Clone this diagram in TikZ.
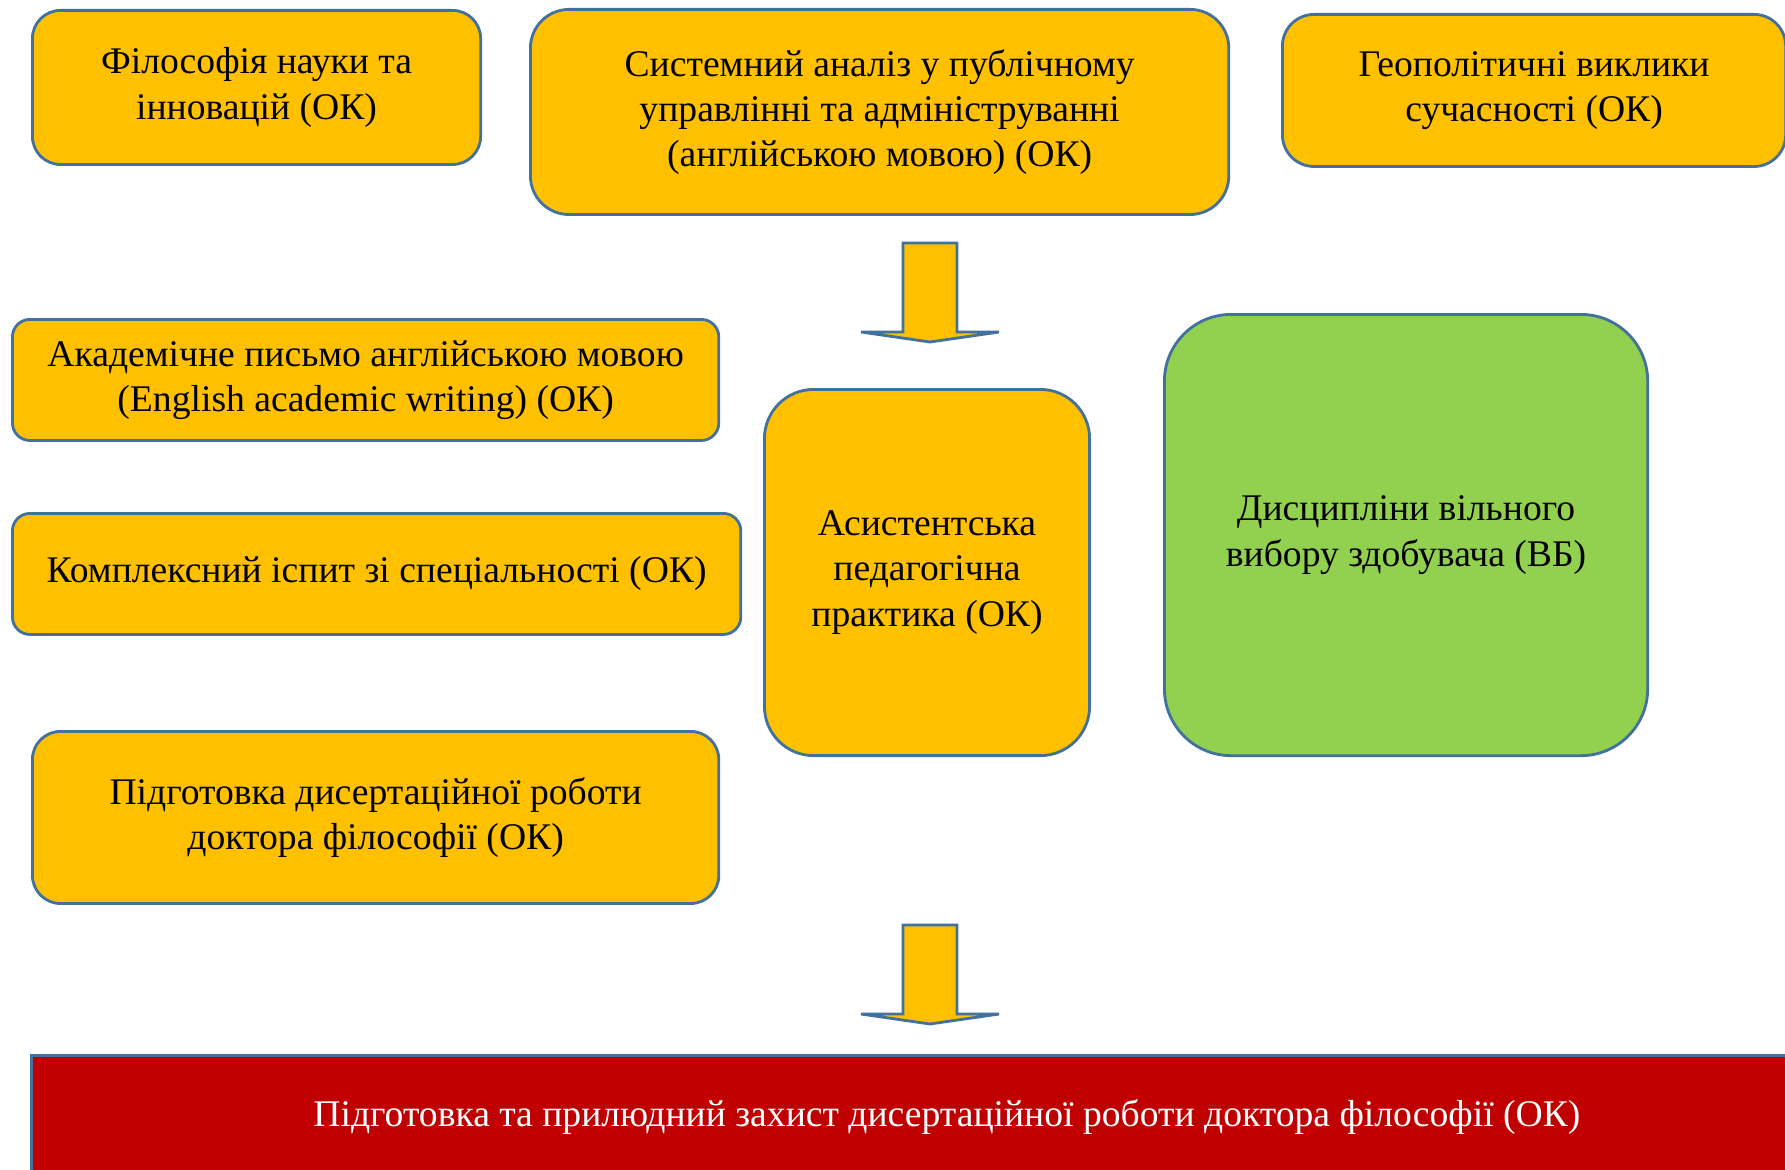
\documentclass[tikz,border=0pt]{standalone}
\usepackage{fontspec}
\setmainfont{Liberation Serif}
\usepackage{tikz}
\usetikzlibrary{positioning,calc}
\definecolor{okyellow}{HTML}{FFC000}
\definecolor{vbgreen}{HTML}{92D050}
\definecolor{zakhred}{HTML}{C00000}
\definecolor{edgeblue}{HTML}{41719C}
\tikzset{
  okbox/.style={draw=edgeblue, line width=0.8pt, fill=okyellow, align=center,
    inner sep=0pt, anchor=north west, font=\fontsize{10.7}{12.9}\selectfont},
  vbbox/.style={okbox, fill=vbgreen},
  finalbox/.style={okbox, fill=zakhred, text=white, rounded corners=0pt},
  arrowblock/.style={draw=edgeblue, line width=0.8pt, fill=okyellow, line join=miter}
}
% block arrow pointing down, top centre at #1
\newcommand{\downblock}[1]{%
  \draw[arrowblock] (#1) ++(-27,0) -- ++(54,0) -- ++(0,89) -- ++(42,0)
    -- ++(-69,10) -- ++(-69,-10) -- ++(42,0) -- cycle;}
\begin{document}
\begin{tikzpicture}[x=0.01cm, y=-0.01cm]
  \clip (0,0) rectangle (1785,1170);
  \useasboundingbox (0,0) rectangle (1785,1170);

  % compulsory courses, first row
  \node[okbox, rounded corners=8pt, minimum width=4.48cm, minimum height=1.54cm] (fil) at (31,9)
    {Філософія науки та\\інновацій (ОК)};
  \node[okbox, rounded corners=11pt, minimum width=6.98cm, minimum height=2.05cm] (sys) at (529,8)
    {Системний аналіз у публічному\\управлінні та адмініструванні\\(англійською мовою) (ОК)};
  \node[okbox, rounded corners=9pt, minimum width=5.03cm, minimum height=1.52cm] (geo) at (1281,13)
    {Геополітичні виклики\\сучасності (ОК)};

  \coordinate (arrtop) at (930,243);
  \downblock{arrtop}

  % second part
  \node[okbox, rounded corners=5pt, minimum width=7.06cm, minimum height=1.21cm] (akad) at (11,318)
    {Академічне письмо англійською мовою\\(English academic writing) (ОК)};
  \node[okbox, rounded corners=5pt, minimum width=7.28cm, minimum height=1.21cm] (kompl) at (11,512)
    {Комплексний іспит зі спеціальності (ОК)};
  \node[okbox, rounded corners=8pt, minimum width=6.86cm, minimum height=1.72cm] (pidg) at (31,730)
    {Підготовка дисертаційної роботи\\доктора філософії (ОК)};
  \node[okbox, rounded corners=14pt, minimum width=3.25cm, minimum height=3.66cm] (asyst) at (763,388)
    {Асистентська\\педагогічна\\практика (ОК)};
  \node[vbbox, rounded corners=19pt, minimum width=4.83cm, minimum height=4.41cm] (vyb) at (1163,313)
    {Дисципліни вільного\\вибору здобувача (ВБ)};

  \coordinate (arrbot) at (930,925);
  \downblock{arrbot}

  % final attestation
  \node[finalbox, minimum width=18.3cm, minimum height=1.24cm] (zakh) at (30,1054)
    {Підготовка та прилюдний захист дисертаційної роботи доктора філософії (ОК)};
\end{tikzpicture}
\end{document}
